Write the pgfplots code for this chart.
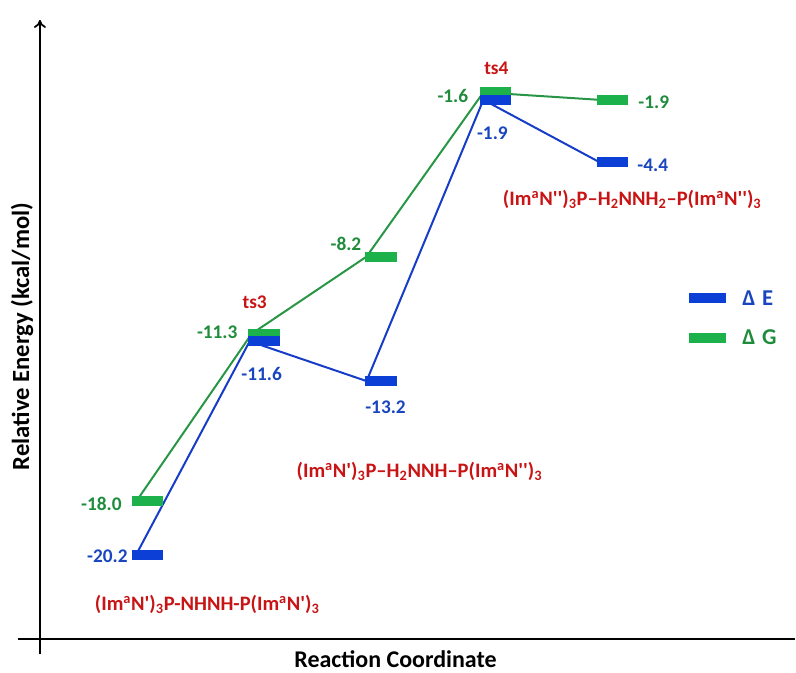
\documentclass[border=0pt]{standalone}
\usepackage{pgfplots}
\pgfplotsset{compat=1.18}
\usetikzlibrary{arrows.meta}
\usepackage{fontspec}
\setmainfont{Carlito}
\definecolor{barblue}{RGB}{11,63,214}
\definecolor{bargreen}{RGB}{29,177,75}
\definecolor{lineblue}{RGB}{22,60,200}
\definecolor{linegreen}{RGB}{40,150,70}
\definecolor{txtgreen}{RGB}{31,140,60}
\definecolor{txtblue}{RGB}{25,70,190}
\definecolor{txtred}{RGB}{200,20,20}
\newcommand{\q}{\textquotesingle}
\tikzset{lbl/.style={font=\fontsize{14.5bp}{17bp}\selectfont\bfseries, inner sep=0pt},
         sp/.style={font=\fontsize{15.4bp}{18bp}\selectfont\bfseries, inner sep=0pt, txtred}}
\begin{document}
\begin{tikzpicture}
\begin{axis}[
  scale only axis, width=567bp, height=465bp,
  xmin=40, xmax=796, ymin=-23.57, ymax=1.31,
  hide axis, clip=false,
]
% bounding box
\path (axis cs:0,-24.855) rectangle (axis cs:796,2.111);
% axes
\draw[line width=1.3bp, -{To[length=6bp,width=9bp]}] (axis cs:40,-24.17) -- (axis cs:40,1.31);
\draw[line width=1.5bp] (axis cs:18,-23.57) -- (axis cs:796,-23.57);
% connecting lines
\addplot[linegreen, line width=1.5bp] coordinates {(137,-18.0) (252,-11.3) (367,-8.2) (484,-1.6) (600,-1.9)};
\addplot[lineblue, line width=1.5bp] coordinates {(136,-20.2) (250,-11.6) (367,-13.2) (484,-1.9) (600,-4.4)};
% green levels
\addplot[bargreen, line width=7.5bp] coordinates {(132,-18.0) (163,-18.0)};
\addplot[bargreen, line width=7.5bp] coordinates {(248,-11.3) (280,-11.3)};
\addplot[bargreen, line width=7.5bp] coordinates {(365,-8.2) (397,-8.2)};
\addplot[bargreen, line width=7.5bp] coordinates {(481,-1.6) (512,-1.6)};
\addplot[bargreen, line width=7.5bp] coordinates {(598,-1.9) (629,-1.9)};
% blue levels
\addplot[barblue, line width=7.5bp] coordinates {(132,-20.2) (163,-20.2)};
\addplot[barblue, line width=7.5bp] coordinates {(248,-11.6) (280,-11.6)};
\addplot[barblue, line width=7.5bp] coordinates {(365,-13.2) (397,-13.2)};
\addplot[barblue, line width=7.5bp] coordinates {(481,-1.9) (512,-1.9)};
\addplot[barblue, line width=7.5bp] coordinates {(598,-4.4) (629,-4.4)};
% legend samples
\addplot[barblue, line width=7.5bp] coordinates {(690,-9.88) (727,-9.88)};
\addplot[bargreen, line width=7.5bp] coordinates {(690,-11.45) (727,-11.45)};
\node[lbl, txtblue, anchor=west, font=\fontsize{17bp}{20bp}\selectfont\bfseries] at (axis cs:743,-9.88) {Δ\hspace{0.3em}E};
\node[lbl, txtgreen, anchor=west, font=\fontsize{17bp}{20bp}\selectfont\bfseries] at (axis cs:743,-11.45) {Δ\hspace{0.3em}G};
% value labels
\node[lbl, txtblue, anchor=east] at (axis cs:128,-20.25) {-20.2};
\node[lbl, txtgreen, anchor=east] at (axis cs:122,-18.15) {-18.0};
\node[lbl, txtgreen, anchor=east] at (axis cs:238,-11.25) {-11.3};
\node[lbl, txtblue] at (axis cs:262,-12.90) {-11.6};
\node[lbl, txtblue] at (axis cs:386,-14.26) {-13.2};
\node[lbl, txtgreen, anchor=east] at (axis cs:362,-7.68) {-8.2};
\node[lbl, txtgreen, anchor=east] at (axis cs:469,-1.74) {-1.6};
\node[lbl, txtblue] at (axis cs:493,-3.23) {-1.9};
\node[lbl, txtgreen, anchor=west] at (axis cs:639,-1.98) {-1.9};
\node[lbl, txtblue, anchor=west] at (axis cs:638,-4.55) {-4.4};
% ts labels
\node[lbl, txtred] at (axis cs:255,-10.05) {ts3};
\node[lbl, txtred] at (axis cs:497,-0.62) {ts4};
% species labels
\node[sp] at (axis cs:207.5,-22.17) {(Im\textsuperscript{a}N\q)\textsubscript{3}P-NHNH-P(Im\textsuperscript{a}N\q)\textsubscript{3}};
\node[sp] at (axis cs:420,-16.83) {(Im\textsuperscript{a}N\q)\textsubscript{3}P–H\textsubscript{2}NNH–P(Im\textsuperscript{a}N\q\q)\textsubscript{3}};
\node[sp] at (axis cs:633,-5.914) {(Im\textsuperscript{a}N\q\q)\textsubscript{3}P–H\textsubscript{2}NNH\textsubscript{2}–P(Im\textsuperscript{a}N\q\q)\textsubscript{3}};
% axis titles
\node[font=\fontsize{18bp}{21bp}\selectfont\bfseries] at (axis cs:396,-24.37) {Reaction Coordinate};
\node[font=\fontsize{18.5bp}{21bp}\selectfont\bfseries, rotate=90] at (axis cs:22,-11.4) {Relative Energy (kcal/mol)};
\end{axis}
\end{tikzpicture}
\end{document}
